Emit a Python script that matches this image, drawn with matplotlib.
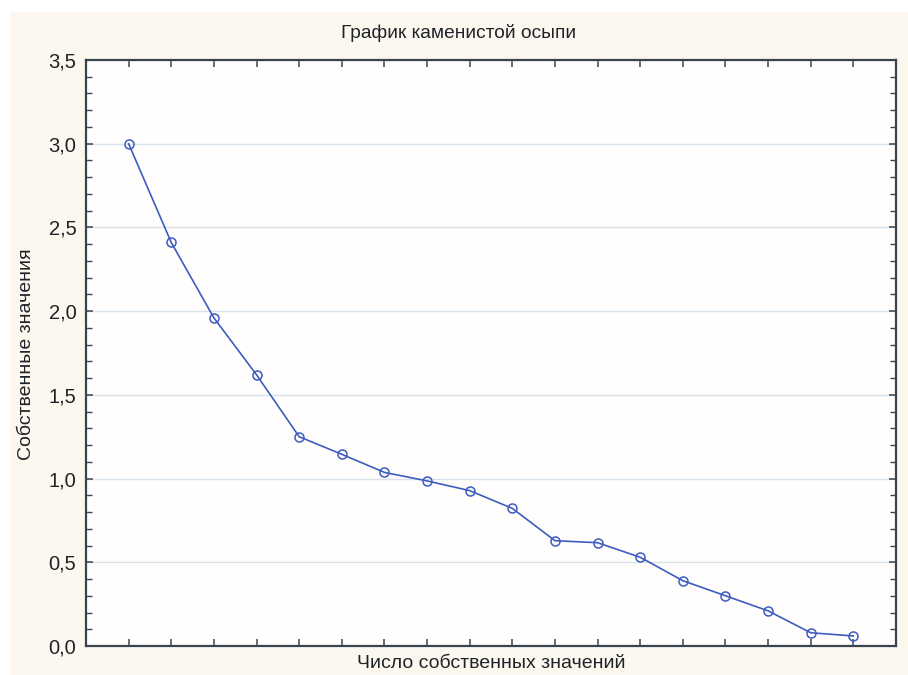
"""Scree plot (график каменистой осыпи) recreated with matplotlib."""

import matplotlib
matplotlib.use("Agg")
import matplotlib.pyplot as plt
from matplotlib.patches import Rectangle
from matplotlib.ticker import FuncFormatter, MultipleLocator

# data
component_numbers = list(range(1, 19))
eigenvalues = [3.00, 2.41, 1.96, 1.62, 1.25, 1.145, 1.037, 0.986, 0.928,
               0.822, 0.629, 0.617, 0.53, 0.39, 0.30, 0.21, 0.079, 0.06]
title_text = "График каменистой осыпи"
xlabel_text = "Число собственных значений"
ylabel_text = "Собственные значения"

plt.rcParams["font.family"] = ["Liberation Sans", "DejaVu Sans"]

fig = plt.figure(figsize=(9.08, 6.75), dpi=100, facecolor="white")
fig.patches.append(Rectangle((10 / 908, 0), 898 / 908, 663 / 675, transform=fig.transFigure,
                             facecolor="#fdf8ef", edgecolor="none", zorder=-10))

ax = fig.add_axes([86 / 908, 29 / 675, 810 / 908, 586 / 675])
ax.set_facecolor("#fffefc")
ax.plot(component_numbers, eigenvalues, color="#3d5cc0", linewidth=1.2,
        marker="o", markersize=6.5, markerfacecolor="none", markeredgewidth=1.1, zorder=3)

ax.set_xlim(0, 19)
ax.set_ylim(0, 3.5)
ax.set_xticks(component_numbers)
ax.xaxis.set_major_formatter(FuncFormatter(lambda v, p: ""))
ax.yaxis.set_major_locator(MultipleLocator(0.5))
ax.yaxis.set_minor_locator(MultipleLocator(0.1))
ax.yaxis.set_major_formatter(FuncFormatter(lambda v, p: f"{v:.1f}".replace(".", ",")))
ax.tick_params(axis="both", which="both", direction="in", colors="#3a4450",
               top=True, right=True, labelcolor="#1e2328")
ax.tick_params(axis="both", which="major", length=5, width=1.1, labelsize=14.5, pad=7)
ax.tick_params(axis="y", which="minor", length=4, width=1.0)
ax.grid(axis="y", which="major", color="#d9e1ea", linewidth=1.0, zorder=0)
for spine in ax.spines.values():
    spine.set_color("#3a4450")
    spine.set_linewidth(1.6)

fig.text(459 / 908, 1 - 33 / 675, title_text, ha="center", va="center", fontsize=13.8, color="#1e2328")
fig.text(491 / 908, 1 - 664 / 675, xlabel_text, ha="center", va="center", fontsize=14, color="#1e2328")
fig.text(27 / 908, 1 - 354 / 675, ylabel_text, ha="center", va="center", rotation=90,
         fontsize=14, color="#1e2328")

fig.savefig("out.png", dpi=100, facecolor=fig.get_facecolor())
